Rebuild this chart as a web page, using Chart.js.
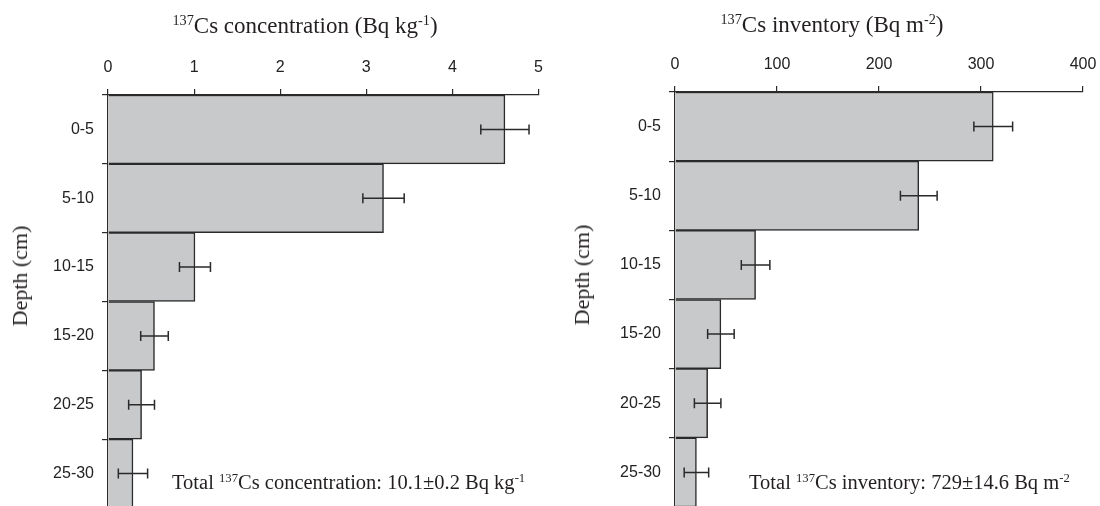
<!DOCTYPE html>
<html>
<head>
  <meta charset="UTF-8">
  <title>137Cs depth profiles</title>
  <style>
    html, body {
      margin: 0;
      padding: 0;
      width: 1100px;
      height: 506px;
      overflow: hidden;
      background: #fff;
    }
    canvas {
      position: absolute;
      top: 0;
    }
    .lbl {
      position: absolute;
      font-family: "Liberation Serif", "Times New Roman", serif;
      color: #231f20;
      white-space: nowrap;
      line-height: 1;
    }
    .lbl sup {
      font-size: 0.62em;
      position: relative;
      top: -0.55em;
      vertical-align: baseline;
      line-height: 0;
    }
    .title {
      font-size: 23px;
      transform: translateX(-50%);
    }
    .ytitle {
      font-size: 22px;
      transform: translate(-50%, -50%) rotate(-90deg);
    }
    .note {
      font-size: 20.5px;
    }
  </style>
  <script src="https://cdn.jsdelivr.net/npm/chart.js"></script>
</head>
<body>
  <canvas id="concChart" width="550" height="508" style="left: 0px;"></canvas>
  <canvas id="invChart" width="550" height="507" style="left: 550px;"></canvas>

  <div class="lbl title" style="left: 305px; top: 14px;"><sup>137</sup>Cs concentration (Bq kg<sup>-1</sup>)</div>
  <div class="lbl title" style="left: 832px; top: 13px;"><sup>137</sup>Cs inventory (Bq m<sup>-2</sup>)</div>
  <div class="lbl ytitle" style="left: 20px; top: 276px;">Depth (cm)</div>
  <div class="lbl ytitle" style="left: 582px; top: 275px;">Depth (cm)</div>
  <div class="lbl note" style="left: 172px; top: 472px;">Total <sup>137</sup>Cs concentration: 10.1±0.2 Bq kg<sup>-1</sup></div>
  <div class="lbl note" style="left: 749px; top: 472px;">Total <sup>137</sup>Cs inventory: 729±14.6 Bq m<sup>-2</sup></div>

  <script>
  // depth intervals (cm)
  const depthLabels = ["0-5", "5-10", "10-15", "15-20", "20-25", "25-30"];

  // 137Cs concentration, Bq/kg, with error
  const concValues = [4.61, 3.20, 1.01, 0.54, 0.39, 0.29];
  const concErrors = [0.28, 0.24, 0.18, 0.16, 0.15, 0.17];
  const concTicks = [0, 1, 2, 3, 4, 5];

  // 137Cs inventory, Bq/m2, with error
  const invValues = [312, 239, 79, 45, 32, 21];
  const invErrors = [19, 18, 14, 13, 13, 12];
  const invTicks = [0, 100, 200, 300, 400];

  const ink = "#2a2a2a";
  const barFill = "#c8c9cb";

  // draws horizontal error bars using the chart's own scales
  const errorBars = {
    id: "errorBars",
    afterDatasetsDraw(chart, args, opts) {
      const ctx = chart.ctx;
      const xs = chart.scales.x;
      const ys = chart.scales.y;
      const vals = chart.data.datasets[0].data;
      ctx.save();
      ctx.strokeStyle = ink;
      ctx.lineWidth = 1.5;
      vals.forEach((v, i) => {
        const e = opts.errors[i];
        const y = ys.getPixelForValue(i);
        const x1 = xs.getPixelForValue(v - e);
        const x2 = xs.getPixelForValue(v + e);
        ctx.beginPath();
        ctx.moveTo(x1, y);
        ctx.lineTo(x2, y);
        ctx.moveTo(x1, y - 5);
        ctx.lineTo(x1, y + 5);
        ctx.moveTo(x2, y - 5);
        ctx.lineTo(x2, y + 5);
        ctx.stroke();
      });
      ctx.restore();
    }
  };

  function makeChart(id, values, errors, ticks, yWidth, xHeight, padRight) {
    const tickFont = { family: "'Liberation Sans', Arial, sans-serif", size: 16 };
    return new Chart(document.getElementById(id).getContext("2d"), {
      type: "bar",
      data: {
        labels: depthLabels,
        datasets: [{
          data: values,
          backgroundColor: barFill,
          borderColor: ink,
          borderWidth: 1.5,
          barPercentage: 1,
          categoryPercentage: 1
        }]
      },
      options: {
        indexAxis: "y",
        responsive: false,
        animation: false,
        layout: { padding: { left: 0, top: 0, right: padRight, bottom: 0 } },
        plugins: {
          legend: { display: false },
          tooltip: { enabled: false },
          errorBars: { errors: errors }
        },
        scales: {
          x: {
            position: "top",
            min: ticks[0],
            max: ticks[ticks.length - 1],
            afterBuildTicks(scale) {
              scale.ticks = ticks.map(v => ({ value: v }));
            },
            ticks: { color: "#222", font: tickFont, padding: 12, maxRotation: 0 },
            grid: { drawOnChartArea: false, tickLength: 6, color: ink, lineWidth: 1.2 },
            border: { color: ink, width: 1.2 },
            afterFit(scale) {
              scale.height = xHeight;
              scale.paddingLeft = 0;
              scale.paddingRight = 0;
            }
          },
          y: {
            ticks: { color: "#222", font: tickFont, padding: 8 },
            grid: { drawOnChartArea: false, tickLength: 6, color: ink, lineWidth: 1.2, offset: true },
            border: { color: ink, width: 1.2 },
            afterFit(scale) {
              scale.width = yWidth;
              scale.paddingTop = 0;
              scale.paddingBottom = 0;
            }
          }
        }
      },
      plugins: [errorBars]
    });
  }

  makeChart("concChart", concValues, concErrors, concTicks, 108, 95, 11.5);
  makeChart("invChart", invValues, invErrors, invTicks, 125, 92, 17);
  </script>
</body>
</html>
